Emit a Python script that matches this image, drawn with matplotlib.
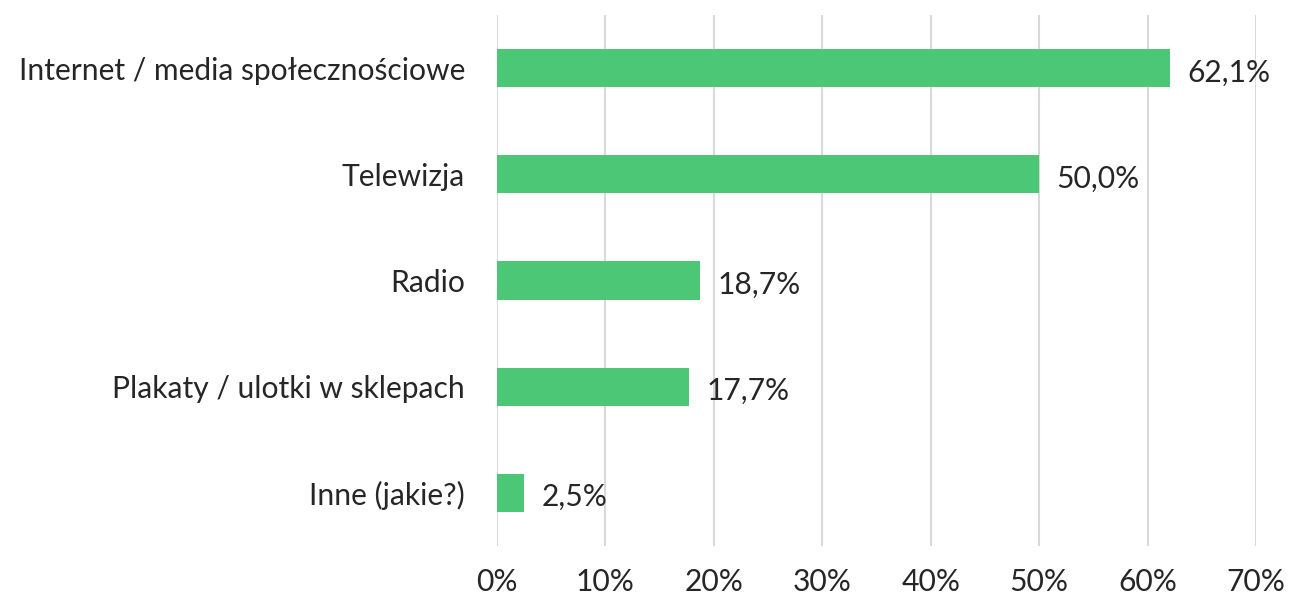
import matplotlib
matplotlib.use("Agg")
import matplotlib.pyplot as plt
from matplotlib.ticker import FuncFormatter

# data
categories = ["Internet / media społecznościowe", "Telewizja", "Radio",
              "Plakaty / ulotki w sklepach", "Inne (jakie?)"]
values = [62.1, 50.0, 18.7, 17.7, 2.5]
xticks = [0, 10, 20, 30, 40, 50, 60, 70]

plt.rcParams['font.family'] = ['Lato', 'DejaVu Sans']
text_col = '#262626'
fs = 21.6

fig = plt.figure(figsize=(12.89, 6.02), dpi=100)
ax = fig.add_axes([0.3856, 0.093, 0.5888, 0.882])

y = list(range(len(categories)))
ax.barh(y, values, height=0.36, color='#4cc776', zorder=3)

for yi, v in zip(y, values):
    ax.text(v + 1.6, yi + 0.04, f"{v:.1f}%".replace('.', ','), va='center', ha='left',
            fontsize=fs, color=text_col)

ax.set_yticks(y)
ax.set_yticklabels(categories, fontsize=fs, color=text_col)
ax.set_ylim(len(categories) - 0.5, -0.5)
ax.set_xlim(0, 70)
ax.set_xticks(xticks)
ax.xaxis.set_major_formatter(FuncFormatter(lambda x, p: f"{x:.0f}%"))
ax.tick_params(axis='x', labelsize=fs, colors=text_col, length=0, pad=16)
ax.tick_params(axis='y', length=0, pad=23)
ax.grid(axis='x', color='#d9d9d9', linewidth=1.5, zorder=0)
for s in ax.spines.values():
    s.set_visible(False)

plt.savefig('out.png', dpi=100)
